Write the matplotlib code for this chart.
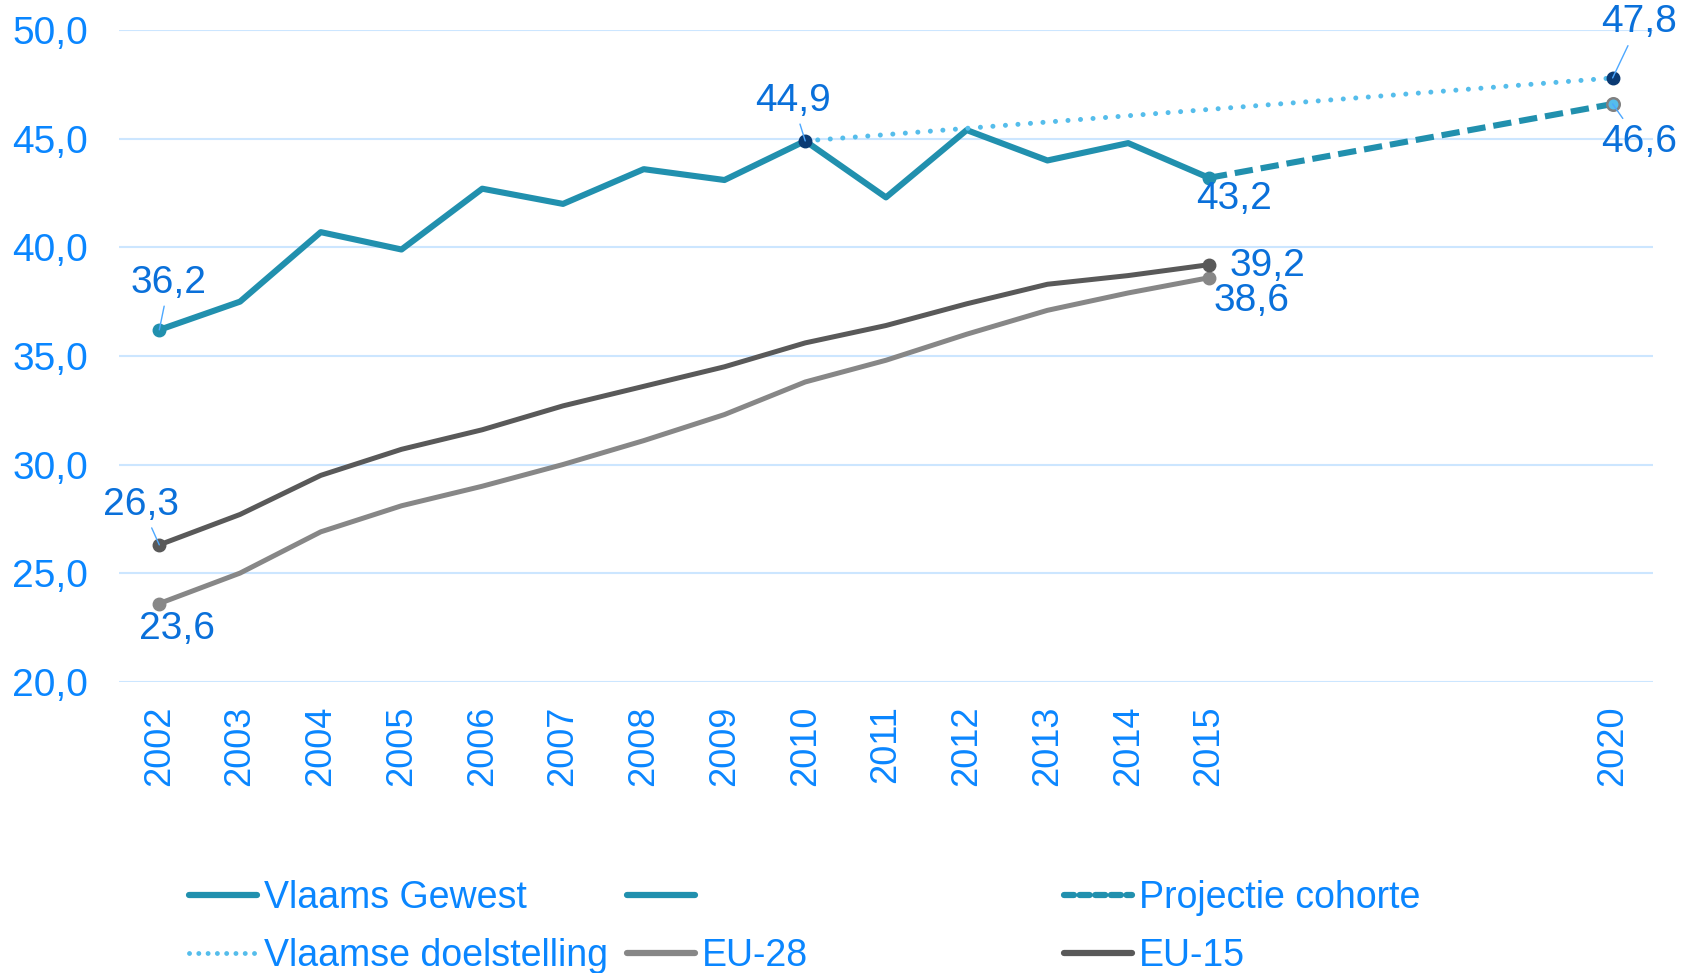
import matplotlib
matplotlib.use("Agg")
from matplotlib import pyplot as plt
from matplotlib.lines import Line2D

plt.rcParams['font.family'] = ['Liberation Sans', 'DejaVu Sans']

# data
years = [2002, 2003, 2004, 2005, 2006, 2007, 2008, 2009, 2010, 2011, 2012, 2013, 2014, 2015]
vlaams = [36.2, 37.5, 40.7, 39.9, 42.7, 42.0, 43.6, 43.1, 44.9, 42.3, 45.4, 44.0, 44.8, 43.2]
eu15 = [26.3, 27.7, 29.5, 30.7, 31.6, 32.7, 33.6, 34.5, 35.6, 36.4, 37.4, 38.3, 38.7, 39.2]
eu28 = [23.6, 25.0, 26.9, 28.1, 29.0, 30.0, 31.1, 32.3, 33.8, 34.8, 36.0, 37.1, 37.9, 38.6]
doel_years = [2010, 2020]
doel = [44.9, 47.8]
cohort_years = [2015, 2020]
cohort = [43.2, 46.6]
tick_years = years + [2020]
yticks = [20, 25, 30, 35, 40, 45, 50]

teal = '#2190AE'
lightblue = '#55BDEB'
navy = '#0B3A73'
dark = '#595959'
grey = '#878787'
tickblue = '#0A86FF'
labelblue = '#0A70DA'

fig = plt.figure(figsize=(16.94, 9.73), dpi=100)
ax = fig.add_axes([0.0702, 0.2994, 0.9056, 0.6696])

ax.plot(years, eu28, color=grey, lw=3.6, marker='o', ms=9, markevery=[0, len(years) - 1], zorder=3)
ax.plot(years, eu15, color=dark, lw=3.6, marker='o', ms=9, markevery=[0, len(years) - 1], zorder=3)
ax.plot(cohort_years, cohort, color=teal, lw=4.4, ls=(0, (3.0, 1.3)), zorder=3)
ax.plot(cohort_years[-1:], cohort[-1:], 'o', color=lightblue, mec='#808080', mew=1.8, ms=9, zorder=5)
ax.plot(years, vlaams, color=teal, lw=4.4, marker='o', ms=9, markevery=[0, len(years) - 1], zorder=4)
ax.plot(doel_years, doel, color=lightblue, lw=3.6, ls=(0, (0.01, 2.5)), dash_capstyle='round', zorder=4)
ax.plot(doel_years, doel, 'o', color=navy, ms=9, zorder=6)

ax.set_xlim(2001.5, 2020.5)
ax.set_ylim(20, 50)
ax.set_xticks(tick_years)
ax.set_xticklabels([str(y) for y in tick_years], rotation=90)
ax.set_yticks(yticks)
ax.set_yticklabels([f'{v:.1f}'.replace('.', ',') for v in yticks])
ax.tick_params(axis='both', length=0, labelcolor=tickblue)
ax.tick_params(axis='y', pad=22, labelsize=28)
ax.tick_params(axis='x', pad=17, labelsize=26)
ax.grid(axis='y', color='#CCE6FF', lw=1.5)
ax.set_axisbelow(True)
for s in ax.spines.values():
    s.set_visible(False)

# value labels (year, value, offset in points, leader line)
labels = [
    (2002, vlaams[0], (7, 34), True),
    (2010, doel[0], (-9, 29), True),
    (2015, vlaams[-1], (18, -15), False),
    (2020, doel[-1], (19, 40), True),
    (2020, cohort[-1], (19, -27), True),
    (2015, eu15[-1], (42, -1), False),
    (2015, eu28[-1], (31, -17), False),
    (2002, eu15[0], (-13, 29), True),
    (2002, eu28[0], (13, -18), False),
]
for x, v, off, lead in labels:
    txt = f'{v:.1f}'.replace('.', ',')
    kw = {}
    if lead:
        kw['arrowprops'] = dict(arrowstyle='-', color='#4DA8FF', lw=1, shrinkA=2, shrinkB=0)
    ax.annotate(txt, (x, v), xytext=off, textcoords='offset points', ha='center', va='center',
                fontsize=28, color=labelblue, zorder=7, **kw)

# legend in three equal columns
h_vg = Line2D([], [], color=teal, lw=4.5, solid_capstyle='round')
h_blank = Line2D([], [], color=teal, lw=4.5, solid_capstyle='round')
h_pc = Line2D([], [], color=teal, lw=4.5, ls=(0, (1.6, 0.9)), dash_capstyle='round')
h_vd = Line2D([], [], color=lightblue, lw=3.5, ls=(0, (0.01, 1.9)), dash_capstyle='round')
h_28 = Line2D([], [], color=grey, lw=4.5, solid_capstyle='round')
h_15 = Line2D([], [], color=dark, lw=4.5, solid_capstyle='round')
columns = [
    ([h_vg, h_vd], ['Vlaams Gewest', 'Vlaamse doelstelling'], 189),
    ([h_blank, h_28], ['', 'EU-28'], 627),
    ([h_pc, h_15], ['Projectie cohorte', 'EU-15'], 1064),
]
for hs, ls_, xpx in columns:
    fig.legend(hs, ls_, loc='upper left', bbox_to_anchor=(xpx / 1694, 1 - 880 / 973),
               frameon=False, fontsize=27, labelcolor=tickblue, handlelength=1.8,
               handletextpad=0.2, borderpad=0, borderaxespad=0, labelspacing=0.58)

fig.savefig('out.png', dpi=100)
